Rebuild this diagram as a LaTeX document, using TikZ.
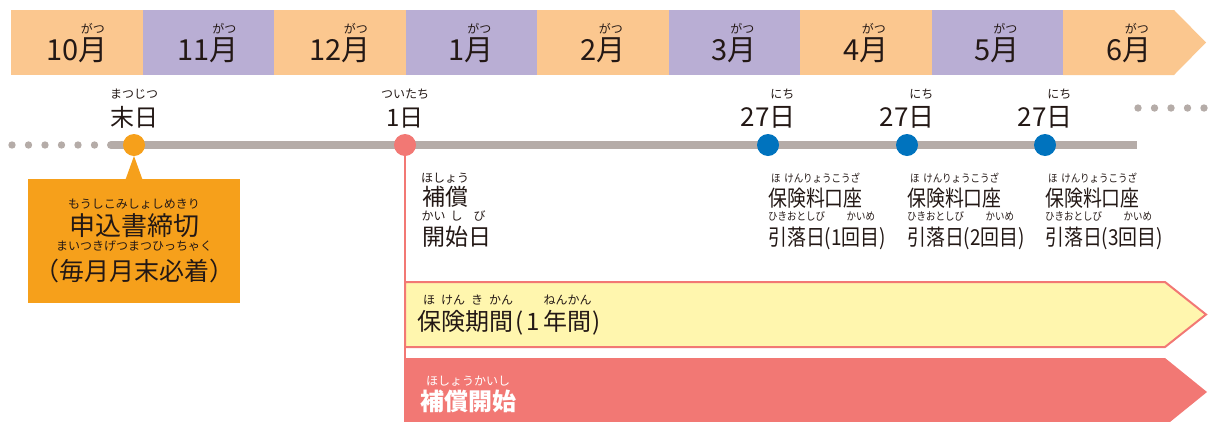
\documentclass[tikz,border=0pt]{standalone}
\usepackage{fontspec}
\setmainfont{Noto Sans CJK JP}
\newfontfamily\jpn[FakeStretch=0.86]{Noto Sans CJK JP}
\definecolor{peach}{HTML}{FBC78F}
\definecolor{lilac}{HTML}{B9AED4}
\definecolor{greyl}{HTML}{B5ACA8}
\definecolor{orng}{HTML}{F6A01B}
\definecolor{redd}{HTML}{F27874}
\definecolor{bluu}{HTML}{0073BE}
\definecolor{yell}{HTML}{FFF6AE}
\definecolor{txt}{HTML}{231815}
\newcommand\rbf{\fontsize{12}{12}\selectfont}
\newcommand\rb[3]{\setbox0\hbox{#2}\rlap{\hbox to\wd0{\hss\raisebox{#1}{\rbf #3}\hss}}\box0}
\tikzset{
  txtnode/.style={inner sep=0pt, text=txt},
  mon/.style={txtnode, anchor=base, font=\fontsize{29}{31}\selectfont},
  daylbl/.style={txtnode, anchor=base, font=\fontsize{24}{26}\selectfont},
  daylbl27/.style={txtnode, anchor=base, font=\fontsize{26}{28}\selectfont},
  boxlbl/.style={txtnode, anchor=base, font=\fontsize{#1}{#1}\selectfont},
  leftlbl/.style={txtnode, anchor=base west, font=\fontsize{#1}{#1}\selectfont},
  bluelbl/.style={txtnode, anchor=base west, font={\jpn\fontsize{22}{24}\selectfont\def\rbf{\jpn\fontsize{11}{11}\selectfont}}},
  markdot/.style={circle, minimum size=22pt, inner sep=0pt},
}
\begin{document}
\begin{tikzpicture}[x=1pt,y=-1pt]
\useasboundingbox (0,0) rectangle (1214,421);
\clip (0,0) rectangle (1214,421);
% month band
\foreach \i in {0,...,7}{
  \pgfmathtruncatemacro\parity{mod(\i,2)}
  \ifnum\parity=0 \def\cc{peach}\else\def\cc{lilac}\fi
  \fill[\cc] (11+131.5*\i,10) rectangle (11+131.5*\i+131.5,75);
}
\fill[peach] (1063,10) -- (1174,10) -- (1206,42.5) -- (1174,75) -- (1063,75) -- cycle;
\foreach \m [count=\i from 0] in {10,11,12,1,2,3,4,5,6}{
  \node[mon] (m\i) at (11+131.5*\i+65.75,60) {\m\rb{27pt}{月}{がつ}};
}
% timeline
\foreach \k in {0,...,5} \fill[greyl] (12+16.5*\k,145) circle (3.7pt);
\foreach \k in {0,...,4} \fill[greyl] (1138+16.5*\k,108) circle (3.7pt);
\coordinate (tl) at (111,145);
\coordinate (tr) at (1137,145);
\draw[greyl, line width=8pt] (tl) -- (tr);
\fill[greyl] (tl) circle (4pt);
% orange box
\fill[orng] (28,179) rectangle (240,303);
\fill[orng] (125,181) -- (134,156) -- (143,181) -- cycle;
% markers
\node[markdot, fill=orng] (s0) at (134,145) {};
\node[markdot, fill=redd] (s1) at (405,145) {};
\node[markdot, fill=bluu] (p1) at (768,145) {};
\node[markdot, fill=bluu] (p2) at (907,145) {};
\node[markdot, fill=bluu] (p3) at (1045,145) {};
% red vertical line and arrows
\coordinate (rbot) at (405,421);
\draw[redd, line width=2.5pt] (s1) -- (rbot);
\draw[redd, line width=2pt, fill=yell] (405,282) -- (1165,282) -- (1206,314.5) -- (1165,347) -- (405,347) -- cycle;
\fill[redd] (404,358) -- (1165,358) -- (1207,392) -- (1165,426) -- (404,426) -- cycle;
% day labels
\node[daylbl] (l0) at (134,126) {\rb{28pt}{末日}{まつじつ}};
\node[daylbl] (l1) at (405,126) {\rb{28pt}{1日}{ついたち}};
\node[daylbl27] (q1) at (768,126) {27\rb{28pt}{日}{にち}};
\node[daylbl27] (q2) at (907,126) {27\rb{28pt}{日}{にち}};
\node[daylbl27] (q3) at (1045,126) {27\rb{28pt}{日}{にち}};
% orange box text
\node[boxlbl=26] (b1) at (134,235) {\rb{27pt}{申込書締切}{もうしこみしょしめきり}};
\node[boxlbl=25] (b2) at (134,280) {（\rb{30pt}{毎月月末必着}{まいつきげつまつひっちゃく}）};
% start labels
\node[leftlbl=23] (h1) at (422,205) {\rb{23pt}{補償}{ほしょう}};
\node[leftlbl=23] (h2) at (422,245) {\rb{25pt}{開}{かい}\rb{25pt}{始}{し}\rb{25pt}{日}{び}};
% blue labels
\foreach \x/\n in {768/1,907/2,1045/3}{
  \node[bluelbl] (k\n) at (\x,206) {\rb{24pt}{保険料口座}{ほ\hspace{0.35em}けんりょうこうざ}};
  \node[bluelbl] (r\n) at (\x,245) {\rb{25pt}{引落日}{ひきおとしび}(\n\rb{25pt}{回目}{かいめ})};
}
% arrow labels
\node[leftlbl=24] (y1) at (417,330) {\rb{26pt}{保}{ほ}\rb{26pt}{険}{けん}\rb{26pt}{期}{き}\rb{26pt}{間}{かん}\kern2pt(\kern3pt 1\kern4pt\rb{26pt}{年}{ねん}\rb{26pt}{間}{かん}\kern1pt)};
\node[leftlbl=24, text=white] (z1) at (420,410) {\rb{25pt}{\bfseries 補償開始}{ほしょうかいし}};
\end{tikzpicture}
\end{document}
